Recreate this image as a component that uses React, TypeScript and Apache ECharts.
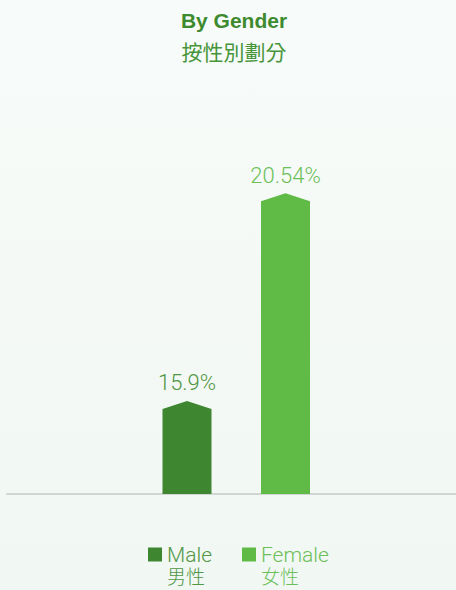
import React, { useEffect, useRef } from "react";
import * as echarts from "echarts";

const TITLE = "By Gender";
const SUBTITLE = "按性別劃分";
const CATEGORIES = ["性別"];
const SERIES_NAMES = ["Male", "Female"];
const SERIES_NAMES_ZH = ["男性", "女性"];
const VALUES = [15.9, 20.54];
const AXIS_MIN = 14;
const AXIS_MAX = 22;

const BAR_COLORS = ["#3e8630", "#5fba46"];
const TEXT_COLORS = ["#509644", "#6cc059"];
const OFFSETS = [-44.5, 54];
const LIGHT_FONT = "Roboto, 'Noto Sans', sans-serif";

export default function App() {
  const ref = useRef<HTMLDivElement>(null);

  useEffect(() => {
    if (!ref.current) return;
    const chart = echarts.init(ref.current, null, { renderer: "svg" });

    const series = SERIES_NAMES.map((name, i) => ({
      type: "custom",
      name,
      data: [[0, VALUES[i]]],
      encode: { x: 0, y: 1 },
      itemStyle: { color: BAR_COLORS[i] },
      renderItem: (params: any, api: any) => {
        const top = api.coord([api.value(0), api.value(1)]);
        const base = api.coord([api.value(0), AXIS_MIN]);
        const cx = top[0] + OFFSETS[i];
        const half = 24.5;
        const peak = 8;
        return {
          type: "group",
          children: [
            {
              type: "polygon",
              shape: {
                points: [
                  [cx - half, base[1]],
                  [cx - half, top[1]],
                  [cx, top[1] - peak],
                  [cx + half, top[1]],
                  [cx + half, base[1]],
                ],
              },
              style: { fill: BAR_COLORS[i] },
            },
            {
              type: "text",
              style: {
                text: String(VALUES[i]) + "%",
                x: cx,
                y: top[1] - peak - 18,
                align: "center",
                verticalAlign: "middle",
                fill: TEXT_COLORS[i],
                fontSize: 22,
                fontWeight: 300,
                fontFamily: LIGHT_FONT,
              },
            },
          ],
        };
      },
    }));

    chart.setOption({
      animation: false,
      backgroundColor: {
        type: "linear",
        x: 0,
        y: 0,
        x2: 0,
        y2: 1,
        colorStops: [
          { offset: 0, color: "#f7fbf9" },
          { offset: 1, color: "#f1f7f3" },
        ],
      },
      grid: { left: 7, right: 0, top: 136, bottom: 96 },
      xAxis: {
        type: "category",
        data: CATEGORIES,
        axisLine: { show: true, lineStyle: { color: "#d2d6d3", width: 2 } },
        axisTick: { show: false },
        axisLabel: { show: false },
        splitLine: { show: false },
      },
      yAxis: {
        type: "value",
        min: AXIS_MIN,
        max: AXIS_MAX,
        show: false,
        splitLine: { show: false },
      },
      legend: {
        left: 148,
        top: 544,
        padding: 0,
        icon: "rect",
        itemWidth: 14,
        itemHeight: 14,
        itemGap: 30,
        itemTextGap: 7,
        formatter: (name: string) =>
          `{en|${name}}\n{zh|${SERIES_NAMES_ZH[SERIES_NAMES.indexOf(name)]}}`,
        textStyle: {
          padding: [21, 0, 0, 0],
          rich: {
            en: {
              fontSize: 21,
              lineHeight: 20,
              fontWeight: 300,
              fontFamily: LIGHT_FONT,
            },
            zh: {
              fontSize: 19,
              lineHeight: 21,
              fontWeight: 300,
              fontFamily: "'Noto Sans CJK TC', sans-serif",
            },
          },
        },
        data: SERIES_NAMES.map((name, i) => ({
          name,
          itemStyle: { color: BAR_COLORS[i] },
          textStyle: { color: TEXT_COLORS[i] },
        })),
        selectedMode: false,
      },
      graphic: [
        {
          type: "text",
          style: {
            text: TITLE,
            x: 234,
            y: 20,
            align: "center",
            verticalAlign: "middle",
            fill: "#3e8a2f",
            fontSize: 21,
            fontWeight: "bold",
            fontFamily: "'Liberation Sans', Arial, sans-serif",
          },
        },
        {
          type: "text",
          style: {
            text: SUBTITLE,
            x: 234,
            y: 51,
            align: "center",
            verticalAlign: "middle",
            fill: "#47953a",
            fontSize: 21,
            fontFamily: "'Noto Sans CJK TC', sans-serif",
          },
        },
      ],
      series,
    } as any);

    return () => chart.dispose();
  }, []);

  return (
    <div
      ref={ref}
      style={{ position: "absolute", left: 0, top: 0, width: 456, height: 590 }}
    />
  );
}
